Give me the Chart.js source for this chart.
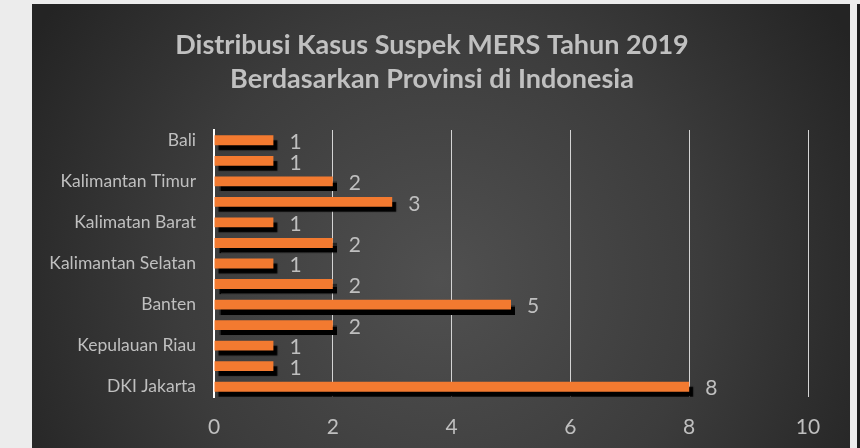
<!DOCTYPE html>
<html>
<head>
<meta charset="utf-8">
<script src="https://cdn.jsdelivr.net/npm/chart.js@4/dist/chart.umd.min.js"></script>
<style>
  html, body { margin: 0; padding: 0; background: #ececec; width: 860px; height: 448px; overflow: hidden; }
  #panel { position: absolute; left: 32px; top: 4px; width: 818px; height: 444px; }
  #edge { position: absolute; left: 857px; top: 4px; width: 3px; height: 444px; background: #1c1c1c; }
</style>
</head>
<body>
<div id="panel"><canvas id="c" width="818" height="444"></canvas></div>
<div id="edge"></div>
<script>
// Categories top to bottom (only every other label is visible in the reference)
const provinces = [
  "Bali", "Nusa Tenggara Barat", "Kalimantan Timur", "Sumatera Utara",
  "Kalimatan Barat", "Jawa Timur", "Kalimantan Selatan", "Jawa Tengah",
  "Banten", "Jawa Barat", "Kepulauan Riau", "Riau", "DKI Jakarta"
];
const suspectCases = [1, 1, 2, 3, 1, 2, 1, 2, 5, 2, 1, 1, 8];
const xTicks = [0, 2, 4, 6, 8, 10];
const titleLines = ["Distribusi Kasus Suspek MERS Tahun 2019", "Berdasarkan Provinsi di Indonesia"];

const bgPlugin = {
  id: 'bg',
  beforeDraw(chart) {
    const { ctx, width, height } = chart;
    const g = ctx.createRadialGradient(width * 0.5, height * 0.62, 0, width * 0.5, height * 0.62, width * 0.58);
    g.addColorStop(0, '#505050');
    g.addColorStop(0.55, '#3c3c3c');
    g.addColorStop(1, '#242424');
    ctx.save();
    ctx.fillStyle = g;
    ctx.fillRect(0, 0, width, height);
    ctx.restore();
  }
};

const titlePlugin = {
  id: 'centerTitle',
  afterDraw(chart) {
    const ctx = chart.ctx;
    ctx.save();
    ctx.font = 'bold 27px Lato';
    ctx.fillStyle = '#c0c0c0';
    ctx.textAlign = 'center';
    ctx.textBaseline = 'middle';
    titleLines.forEach((line, i) => ctx.fillText(line, 400, 41 + i * 34));
    ctx.restore();
  }
};

const shadowPlugin = {
  id: 'barShadow',
  beforeDatasetDraw(chart) {
    const ctx = chart.ctx;
    ctx.save();
    ctx.shadowColor = '#000000';
    ctx.shadowOffsetX = 4;
    ctx.shadowOffsetY = 5;
    ctx.shadowBlur = 1;
  },
  afterDatasetDraw(chart) {
    chart.ctx.restore();
  }
};

const valueLabels = {
  id: 'valueLabels',
  afterDatasetsDraw(chart) {
    const ctx = chart.ctx;
    const meta = chart.getDatasetMeta(0);
    ctx.save();
    ctx.font = '21px Lato';
    ctx.fillStyle = '#bfbfbf';
    ctx.textAlign = 'left';
    ctx.textBaseline = 'middle';
    meta.data.forEach((bar, i) => {
      ctx.fillText(String(chart.data.datasets[0].data[i]), bar.x + 16, bar.y + 2);
    });
    ctx.restore();
  }
};

new Chart(document.getElementById('c'), {
  type: 'bar',
  data: {
    labels: provinces,
    datasets: [{
      data: suspectCases,
      backgroundColor: '#f37a30',
      borderWidth: 0,
      barPercentage: 0.48,
      categoryPercentage: 1.0
    }]
  },
  options: {
    indexAxis: 'y',
    responsive: false,
    animation: false,
    events: [],
    layout: { padding: { left: 0, right: 42, top: 126, bottom: 0 } },
    plugins: {
      legend: { display: false },
      tooltip: { enabled: false },
      title: { display: false }
    },
    scales: {
      x: {
        min: 0, max: 10,
        afterBuildTicks(scale) { scale.ticks = xTicks.map(v => ({ value: v })); },
        afterFit(scale) { scale.height = 51; },
        grid: { color: '#d4d4d4', lineWidth: 1, drawTicks: false },
        border: { display: false },
        ticks: { color: '#bfbfbf', font: { family: 'Lato', size: 21 }, padding: 18 }
      },
      y: {
        afterFit(scale) { scale.width = 182; },
        grid: { display: false, drawTicks: false },
        border: { display: true, color: '#ffffff', width: 2 },
        ticks: {
          autoSkip: false,
          color: '#bfbfbf',
          font: { family: 'Lato', size: 17.5 },
          padding: 18,
          callback(value, index) { return index % 2 === 0 ? this.getLabelForValue(value) : ''; }
        }
      }
    }
  },
  plugins: [bgPlugin, shadowPlugin, valueLabels, titlePlugin]
});
</script>
</body>
</html>
